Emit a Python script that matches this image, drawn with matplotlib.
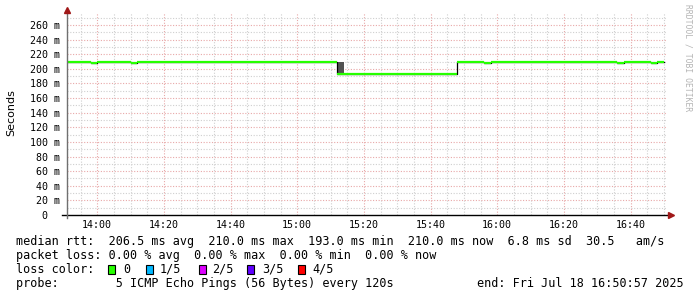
import matplotlib
matplotlib.use("Agg")
import matplotlib.pyplot as plt
import matplotlib.patches as mpatches
import numpy as np

# ---------------- data ----------------
start_min = 13 * 60 + 50 + 57 / 60.0   # 13:50:57
end_min = 16 * 60 + 50 + 57 / 60.0     # 16:50:57
first_sample_min = 13 * 60 + 50        # first sample 13:50, step 120 s
step_min = 2.0

median_rtt = [
    210.0, 210.0, 210.0, 210.0, 208.5, 210.0, 210.0, 210.0, 210.0, 210.0,
    208.5, 209.2, 210.0, 210.0, 210.0, 210.0, 210.0, 210.0, 210.0, 210.0,
    210.0, 210.0, 210.0, 210.0, 210.0, 210.0, 210.0, 210.0, 210.0, 210.0,
    210.0, 210.0, 210.0, 210.0, 210.0, 210.0, 210.0, 210.0, 210.0, 210.0,
    210.0, 193.5, 193.0, 193.0, 193.0, 193.0, 193.0, 193.0, 193.0, 193.0,
    193.0, 193.0, 193.0, 193.0, 193.0, 193.0, 193.0, 193.0, 193.0, 209.5,
    210.0, 210.0, 210.0, 208.5, 210.0, 210.0, 210.0, 210.0, 210.0, 210.0,
    210.0, 210.0, 210.0, 210.0, 210.0, 210.0, 210.0, 210.0, 210.0, 210.0,
    210.0, 210.0, 210.0, 208.5, 209.2, 210.0, 210.0, 210.0, 208.5, 210.0,
]
smoke_index = [41]
smoke_low = [193.0]
smoke_high = [210.0]

xtick_labels = ["14:00", "14:20", "14:40", "15:00", "15:20", "15:40", "16:00", "16:20", "16:40"]
ytick_values = list(range(0, 261, 20))
ytick_labels = ["0  "] + [f"{v} m" for v in ytick_values[1:]]

legend_row1 = "median rtt:  206.5 ms avg  210.0 ms max  193.0 ms min  210.0 ms now  6.8 ms sd  30.5   am/s"
legend_row2 = "packet loss: 0.00 % avg  0.00 % max  0.00 % min  0.00 % now"
loss_labels = ["0", "1/5", "2/5", "3/5", "4/5"]
loss_colors = ["#26ff00", "#00b8ff", "#dd00ff", "#6000ff", "#ff0000"]
probe_text = "probe:        5 ICMP Echo Pings (56 Bytes) every 120s"
end_text = "end: Fri Jul 18 16:50:57 2025"

# ---------------- figure ----------------
W, H = 697, 297
fig = plt.figure(figsize=(W / 100, H / 100), dpi=100)
fig.patch.set_facecolor("white")

ax_l, ax_r, ax_t, ax_b = 67, 667, 13, 215
ax = fig.add_axes([ax_l / W, 1 - ax_b / H, (ax_r - ax_l) / W, (ax_b - ax_t) / H])
ax.set_facecolor("white")
ymax = 276.4
ax.set_xlim(start_min, end_min)
ax.set_ylim(0, ymax)

n = len(median_rtt)
starts = first_sample_min + step_min * np.arange(n)
ends = starts + step_min
vals = np.array(median_rtt)

# grid
major_x = [14 * 60 + 20 * i for i in range(len(xtick_labels))]
minor_x = np.arange(13 * 60 + 55, end_min, 5)
for x in minor_x:
    if x not in major_x:
        ax.axvline(x, color="#cfcfcf", lw=0.8, ls=(0, (1, 1.5)), zorder=0)
for y in range(10, int(ymax) + 1, 10):
    if y % 20:
        ax.axhline(y, color="#cfcfcf", lw=0.8, ls=(0, (1, 1.5)), zorder=0)
for x in major_x:
    ax.axvline(x, color="#e8a8a8", lw=0.8, ls=(0, (1, 1.5)), zorder=0.5)
for y in ytick_values[1:]:
    ax.axhline(y, color="#e8a8a8", lw=0.8, ls=(0, (1, 1.5)), zorder=0.5)

# smoke
for i, lo, hi in zip(smoke_index, smoke_low, smoke_high):
    ax.bar(starts[i], hi - lo, bottom=lo, width=step_min, align="edge",
           color="#525252", edgecolor="none", zorder=1)

# black step connectors, then green median segments
ax.step(np.append(starts, ends[-1]), np.append(vals, vals[-1]), where="post",
        color="black", lw=0.9, zorder=2)
ax.hlines(vals, starts, ends, colors=loss_colors[0], lw=1.6, zorder=3)

# axes / ticks
for s in ax.spines.values():
    s.set_visible(False)
ax.set_xticks(major_x)
ax.set_xticklabels(xtick_labels, family="DejaVu Sans Mono", fontsize=7.2)
ax.set_yticks(ytick_values)
ax.set_yticklabels(ytick_labels, family="DejaVu Sans Mono", fontsize=7.2)
ax.tick_params(axis="both", length=0)
ax.tick_params(axis="x", pad=3.5)
ax.tick_params(axis="y", pad=5)

# axis lines with arrows
ax.plot([-5 / 600, 602 / 600], [0, 0], transform=ax.transAxes, color="black",
        lw=1.0, clip_on=False, zorder=5)
ax.plot([0, 0], [-3 / 202, 1.0], transform=ax.transAxes, color="#707070",
        lw=1.0, clip_on=False, zorder=5)
ax.plot([604 / 600], [0], transform=ax.transAxes, marker=">", ms=4,
        color="#a01818", clip_on=False, zorder=6)
ax.plot([0], [205 / 202], transform=ax.transAxes, marker="^", ms=4,
        color="#a01818", clip_on=False, zorder=6)

# y label
fig.text(11 / W, 1 - 113 / H, "Seconds", rotation=90, ha="center", va="center",
         family="DejaVu Sans", fontsize=8)

# watermark
fig.text(688 / W, 1 - 58 / H, "RRDTOOL / TOBI OETIKER", rotation=270, ha="center",
         va="center", family="DejaVu Sans Mono", fontsize=5.8, color="#b4b4b4")

# legend text
mono = dict(family="DejaVu Sans Mono", fontsize=8.5, va="center", ha="left")
fig.text(16 / W, 1 - 241 / H, legend_row1, **mono)
fig.text(16 / W, 1 - 255.3 / H, legend_row2, **mono)
fig.text(16 / W, 1 - 269.3 / H, "loss color:", **mono)
box_x = [108.3, 145.7, 198.7, 247.0, 298.3]
lab_x = [123.3, 160.0, 211.7, 261.7, 312.7]
for bx, lx, lab, col in zip(box_x, lab_x, loss_labels, loss_colors):
    rect = mpatches.Rectangle((bx / W, 1 - 274.3 / H), 7 / W, 9.5 / H,
                              transform=fig.transFigure, facecolor=col,
                              edgecolor="black", lw=0.8)
    fig.add_artist(rect)
    fig.text(lx / W, 1 - 269.3 / H, lab, **mono)
fig.text(16 / W, 1 - 283.7 / H, probe_text, **mono)
fig.text(477 / W, 1 - 283.7 / H, end_text, **mono)

fig.savefig("out.png", dpi=100, facecolor="white")
